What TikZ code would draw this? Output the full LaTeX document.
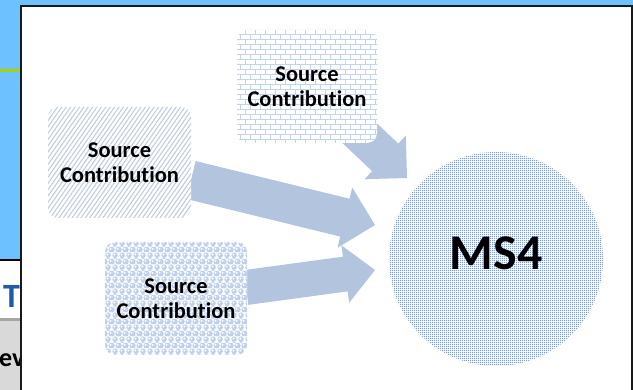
\documentclass[tikz,border=0pt]{standalone}
\usepackage{fontspec}
\setmainfont{Carlito}[Ligatures=NoCommon]
\usetikzlibrary{calc,patterns.meta}

\definecolor{deskblue}{HTML}{6EC1FF}
\definecolor{tabgreen}{HTML}{A6D400}
\definecolor{arrowfill}{HTML}{B3C4DF}
\definecolor{brickline}{HTML}{C3D2EE}
\definecolor{hatchline}{HTML}{C2CDE2}
\definecolor{bubblefill}{HTML}{BFD0EC}
\definecolor{dotblue}{HTML}{7E9DD6}
\definecolor{titleblue}{HTML}{1F5BA8}
\definecolor{bargray}{HTML}{D9D9D9}
\definecolor{baredge}{HTML}{A5A5A5}

% brick wall texture
\tikzdeclarepattern{
  name=brickwall,
  type=uncolored,
  bottom left={(-1pt,-1pt)},
  top right={(11pt,11pt)},
  tile size={(10pt,10pt)},
  code={
    \draw[line width=1pt]
      (-1pt,0pt) -- (11pt,0pt)
      (-1pt,5pt) -- (11pt,5pt)
      (0pt,0pt) -- (0pt,5pt)
      (5pt,5pt) -- (5pt,10pt);
  }
}

% sphere texture
\tikzdeclarepattern{
  name=bubbles,
  type=colored,
  bottom left={(0pt,0pt)},
  top right={(7pt,12pt)},
  tile size={(7pt,12pt)},
  code={
    \fill[bubblefill] (3.5pt,3pt) circle[radius=3.1pt]
      (0pt,9pt) circle[radius=3.1pt] (7pt,9pt) circle[radius=3.1pt]
      (0pt,-3pt) circle[radius=3.1pt] (7pt,-3pt) circle[radius=3.1pt]
      (3.5pt,15pt) circle[radius=3.1pt];
    \fill[white] (2.8pt,3.8pt) circle[radius=1.2pt]
      (-0.7pt,9.8pt) circle[radius=1.2pt] (6.3pt,9.8pt) circle[radius=1.2pt];
  }
}

% fine dot grid
\tikzdeclarepattern{
  name=dotgrid,
  type=uncolored,
  bottom left={(0pt,0pt)},
  top right={(2.4pt,2.4pt)},
  tile size={(2.4pt,2.4pt)},
  code={
    \fill (0pt,0pt) rectangle (1.5pt,1.5pt);
  }
}

% block arrow: tail, tip, shaft half-width, head length, head half-width
\newcommand{\blockarrow}[5]{%
  \coordinate (#2-base) at ($(#2)!#4!(#1)$);
  \fill[arrowfill]
    ($(#1)!#3!90:(#2)$) -- ($(#2-base)!#3!90:(#2)$) --
    ($(#2-base)!#5!90:(#2)$) -- (#2) --
    ($(#2-base)!#5!-90:(#2)$) -- ($(#2-base)!#3!-90:(#2)$) --
    ($(#1)!#3!-90:(#2)$) -- cycle;
}

\tikzset{
  srcbox/.style={rounded corners=10pt, inner sep=0pt, align=center,
    font=\fontsize{22.5}{25}\selectfont\bfseries,
    preaction={fill=white}},
  bricks box/.style={pattern={brickwall}, pattern color=brickline},
  hatch box/.style={pattern={Lines[angle=55,distance=3.6pt,line width=1.1pt]},
    pattern color=hatchline},
  bubble box/.style={pattern={bubbles}},
  hub/.style={circle, inner sep=0pt, minimum size=214pt,
    preaction={fill=white}, pattern={dotgrid}, pattern color=dotblue},
}

\begin{document}
\begin{tikzpicture}[x=1pt, y=-1pt]
  \useasboundingbox (0,0) rectangle (633,390);

  % desktop behind the window
  \fill[deskblue] (0,0) rectangle (633,390);
  \fill[tabgreen] (0,69) rectangle (20,72);
  \fill[white] (0,261) rectangle (20,318);
  \fill[black] (0,259.5) rectangle (20,261.5);
  \fill[bargray] (0,318) rectangle (20,390);
  \fill[baredge] (0,318) rectangle (20,321);
  \begin{scope}
    \clip (0,261) rectangle (20,390);
    \node[anchor=base west, inner sep=0pt, text=titleblue,
      font=\fontsize{34}{34}\selectfont\bfseries] (tabT) at (3,308) {T};
    \node[anchor=base west, inner sep=0pt,
      font=\fontsize{26}{26}\selectfont\bfseries] (tabev) at (-1,367) {ev};
  \end{scope}

  % window
  \fill[black!90] (20,5) rectangle (633,390);
  \fill[white] (22,7) rectangle (631,390);

  % arrow end points
  \coordinate (tailA) at (350,124);
  \coordinate (tipA) at (407,178);
  \coordinate (tailB) at (191,180);
  \coordinate (tipB) at (375,225);
  \coordinate (tailC) at (246,287.5);
  \coordinate (tipC) at (375,270);

  \blockarrow{tailA}{tipA}{19pt}{30pt}{30pt}
  \blockarrow{tailB}{tipB}{19.5pt}{31pt}{31pt}
  \blockarrow{tailC}{tipC}{17.5pt}{30pt}{29pt}

  % sources
  \node[srcbox, bricks box, minimum width=140pt, minimum height=113pt]
    (srcTop) at (307,86.5) {Source\\Contribution};
  \node[srcbox, hatch box, minimum width=143pt, minimum height=111pt]
    (srcLeft) at (119.5,162.5) {Source\\Contribution};
  \node[srcbox, bubble box, minimum width=142pt, minimum height=113pt]
    (srcBottom) at (176,298.5) {Source\\Contribution};

  % receiving system
  \node[hub] (ms4) at (496,259) {};
  \node[inner sep=0pt, font=\fontsize{50}{50}\selectfont\bfseries]
    (ms4text) at (496,253) {MS4};
\end{tikzpicture}
\end{document}
